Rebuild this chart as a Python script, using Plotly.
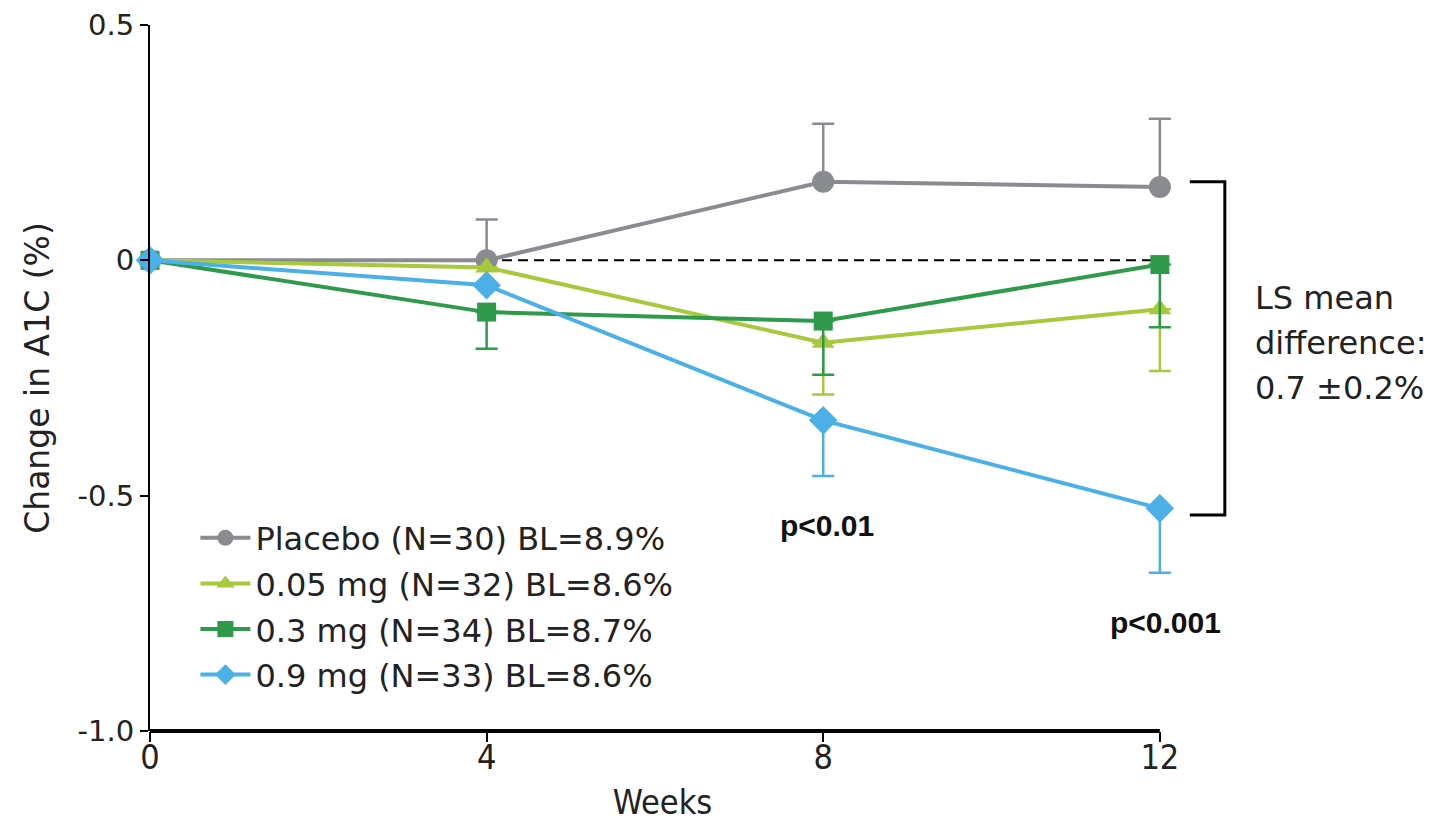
import plotly.graph_objects as go

weeks = [0, 4, 8, 12]
tick_labels = ["0", "4", "8", "12"]
y_ticks = [0.5, 0, -0.5, -1.0]
y_tick_labels = ["0.5", "0", "-0.5", "-1.0"]
names = ["Placebo (N=30) BL=8.9%", "0.05 mg (N=32) BL=8.6%",
         "0.3 mg (N=34) BL=8.7%", "0.9 mg (N=33) BL=8.6%"]
placebo = [0, 0, 0.167, 0.156]
placebo_err = [0, 0.087, 0.123, 0.145]
mg005 = [0, -0.015, -0.175, -0.104]
mg005_err = [0, 0, 0.11, 0.131]
mg03 = [0, -0.11, -0.129, -0.009]
mg03_err = [0, 0.078, 0.114, 0.133]
mg09 = [0, -0.053, -0.34, -0.527]
mg09_err = [0, 0, 0.118, 0.137]

colors = ["#8a8b90", "#a8c93c", "#2f9a4c", "#4bb0e8"]
symbols = ["circle", "triangle-up", "square", "diamond"]
sizes = [22, 20, 19, 22]
values = [placebo, mg005, mg03, mg09]
errs = [placebo_err, mg005_err, mg03_err, mg09_err]
up = [True, False, False, False]

YMIN, YMAX = -1.0, 0.5
XMIN, XMAX = 0, 12.18   # small room right of week 12 so end caps are not clipped


def ypaper(v):
    return (v - YMIN) / (YMAX - YMIN)


def xpaper(w):
    return (w - XMIN) / (XMAX - XMIN)


SANS = "Liberation Sans, Arial, sans-serif"
WIDE = "DejaVu Sans, Verdana, sans-serif"
NARROW = "Liberation Sans Narrow, DejaVu Sans Condensed, Arial, sans-serif"

fig = go.Figure()
for i in range(4):
    zeros = [0] * len(weeks)
    ey = dict(type="data", symmetric=False,
              array=errs[i] if up[i] else zeros,
              arrayminus=zeros if up[i] else errs[i],
              color=colors[i], thickness=2.5, width=11, visible=True)
    fig.add_trace(go.Scatter(
        x=weeks, y=values[i], name=names[i], mode="lines+markers",
        legendgroup=f"g{i}",
        line=dict(color=colors[i], width=4),
        marker=dict(symbol=symbols[i], size=sizes[i], color=colors[i]),
        error_y=ey, cliponaxis=False))

# x axis line (only from week 0 to week 12)
fig.add_shape(type="line", xref="paper", yref="paper",
              x0=xpaper(weeks[0]), x1=xpaper(weeks[-1]), y0=0, y1=0,
              line=dict(color="black", width=4))
# dashed zero line
fig.add_shape(type="line", x0=weeks[0], x1=weeks[-1], y0=0, y1=0, xref="x", yref="y",
              line=dict(color="black", width=2, dash="10px,6px"), layer="below")
# bracket (placebo wk8 level to just below 0.9 mg wk12)
btop = ypaper(placebo[2])
bbot = ypaper(mg09[3] - 0.014)
bx0, bx1 = xpaper(12.356), xpaper(12.772)
fig.add_shape(type="path", xref="paper", yref="paper",
              path=f"M {bx0} {btop} L {bx1} {btop} L {bx1} {bbot} L {bx0} {bbot}",
              line=dict(color="black", width=3))

ls_lines = ["LS mean", "difference:", "0.7 ±0.2%"]
ls_y = [0.6133, 0.5496, 0.4858]
for t, yy in zip(ls_lines, ls_y):
    fig.add_annotation(x=xpaper(13.105), y=yy, xref="paper", yref="paper", xanchor="left",
                       yanchor="middle", showarrow=False, text=t,
                       font=dict(size=32, color="#222", family=WIDE))

fig.add_annotation(x=xpaper(8.04), y=ypaper(-0.564), xref="paper", yref="paper",
                   showarrow=False, xanchor="center", yanchor="middle",
                   text="<b>p<0.01</b>", font=dict(size=30, color="#111", family=SANS))
fig.add_annotation(x=xpaper(12.07), y=ypaper(-0.769), xref="paper", yref="paper",
                   showarrow=False, xanchor="center", yanchor="middle",
                   text="<b>p<0.001</b>", font=dict(size=30, color="#111", family=SANS))

W, H = 1439, 815
L, T = 142, 17
PW, PH = 1025, 706
R = W - L - PW
B = H - T - PH

fig.update_layout(
    width=W, height=H,
    margin=dict(l=L, r=R, t=T, b=B, autoexpand=False),
    plot_bgcolor="white", paper_bgcolor="white",
    font=dict(family=SANS, color="#222"),
    showlegend=True,
    legend=dict(x=0.0443, y=0.3123, xanchor="left", yanchor="top",
                font=dict(size=32, color="#222", family=WIDE), bgcolor="rgba(0,0,0,0)",
                tracegroupgap=1, itemwidth=50),
    xaxis=dict(range=[XMIN, XMAX], tickvals=weeks, ticktext=tick_labels,
               showline=False, ticks="outside",
               ticklen=10, tickwidth=2, tickcolor="black", showgrid=False, zeroline=False,
               tickfont=dict(size=34, family=NARROW), ticklabelstandoff=-14,
               ticklabeloverflow="allow",
               title=dict(text="Weeks", standoff=14, font=dict(size=34, family=NARROW))),
    yaxis=dict(range=[YMIN, YMAX], tickvals=y_ticks, ticktext=y_tick_labels,
               showline=True, linecolor="black", linewidth=2, ticks="outside",
               ticklen=8, tickwidth=2, tickcolor="black", showgrid=False, zeroline=False,
               tickfont=dict(size=29, family=WIDE), ticklabeloverflow="allow",
               title=dict(text="Change in A1C (%)", standoff=18,
                          font=dict(size=33, family=WIDE))),
)

fig.write_html("out.html")
